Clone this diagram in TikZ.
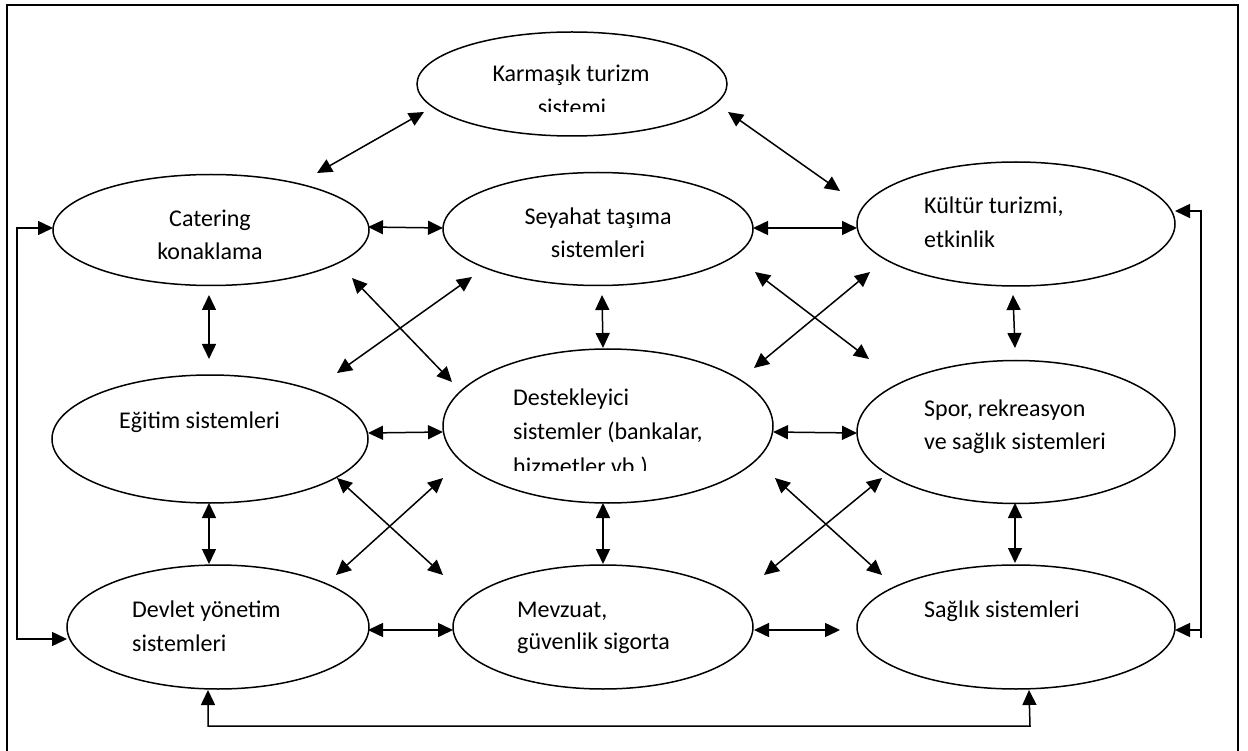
\documentclass[tikz,border=0pt]{standalone}
\usepackage{fontspec}
\setmainfont{Carlito}
\usetikzlibrary{arrows.meta,shapes.geometric}
\tikzset{
  sys/.style={draw,ellipse,line width=1.5pt,inner sep=0pt},
  lbl/.style={inner sep=0pt,font=\fontsize{24}{30}\selectfont},
  lblc/.style={lbl,anchor=base},
  lbll/.style={lbl,anchor=base west},
  biarrow/.style={line width=1.5pt,{Triangle[length=15pt,width=14pt]}-{Triangle[length=15pt,width=14pt]}},
  onearrow/.style={line width=1.5pt,-{Triangle[length=15pt,width=14pt]}},
  frameline/.style={line width=1.5pt}
}
\begin{document}
\begin{tikzpicture}[x=1pt,y=-1pt]
\useasboundingbox (0,0) rectangle (1248,751);
% frame
\coordinate (f1) at (7,751);
\coordinate (f2) at (7,5);
\coordinate (f3) at (1238,5);
\coordinate (f4) at (1238,751);
\draw[frameline] (f1) -- (f2) -- (f3) -- (f4);

% ellipses
\node[sys,minimum width=310pt,minimum height=104pt] (kar) at (572,84) {};
\node[sys,minimum width=316pt,minimum height=111pt] (cat) at (211,230) {};
\node[sys,minimum width=310pt,minimum height=113pt] (sey) at (598,229) {};
\node[sys,minimum width=318pt,minimum height=124pt] (kul) at (1016,224) {};
\node[sys,minimum width=316pt,minimum height=128pt] (egi) at (210,439) {};
\node[sys,minimum width=330pt,minimum height=154pt] (des) at (608,426) {};
\node[sys,minimum width=318pt,minimum height=143pt] (spo) at (1016,432) {};
\node[sys,minimum width=302pt,minimum height=124pt] (dev) at (218,627) {};
\node[sys,minimum width=300pt,minimum height=124pt] (mev) at (603,627) {};
\node[sys,minimum width=318pt,minimum height=124pt] (sag) at (1016,627) {};

% texts
\node[lblc] (kar1) at (571,82) {Karmaşık turizm};
\begin{scope}
  \clip (420,40) rectangle (725,112);
  \node[lblc] (kar2) at (572,116) {sistemi};
\end{scope}
\node[lblc] (cat1) at (210,227) {Catering};
\node[lblc] (cat2) at (210,260) {konaklama};
\node[lblc] (sey1) at (598,225) {Seyahat taşıma};
\node[lblc] (sey2) at (598,258) {sistemleri};
\node[lbll] (kul1) at (924,214) {Kültür turizmi,};
\node[lbll] (kul2) at (924,248) {etkinlik};
\node[lbll] (egi1) at (119,428) {Eğitim sistemleri};
\node[lbll] (des1) at (513,406) {Destekleyici};
\node[lbll] (des2) at (513,439) {sistemler (bankalar,};
\begin{scope}
  \clip (480,445) rectangle (760,470);
  \node[lbll] (des3) at (513,474) {hizmetler vb.)};
\end{scope}
\node[lbll] (spo1) at (924,416) {Spor, rekreasyon};
\node[lbll] (spo2) at (924,449) {ve sağlık sistemleri};
\node[lbll] (dev1) at (132,617) {Devlet yönetim};
\node[lbll] (dev2) at (132,651) {sistemleri};
\node[lbll] (mev1) at (517,617) {Mevzuat,};
\node[lbll] (mev2) at (517,649) {güvenlik sigorta};
\node[lbll] (sag1) at (924,617) {Sağlık sistemleri};

% arrow end points
\coordinate (a1s) at (424,112); \coordinate (a1e) at (317,173);
\coordinate (a2s) at (728,112); \coordinate (a2e) at (840,191);
\coordinate (a3s) at (368,227); \coordinate (a3e) at (443,228);
\coordinate (a4s) at (753,228); \coordinate (a4e) at (857,228);
\coordinate (a5s) at (209,295); \coordinate (a5e) at (209,359);
\coordinate (a6s) at (602,295); \coordinate (a6e) at (603,348);
\coordinate (a7s) at (1013,295); \coordinate (a7e) at (1015,348);
\coordinate (a8s) at (352,278); \coordinate (a8e) at (452,382);
\coordinate (a9s) at (472,277); \coordinate (a9e) at (337,373);
\coordinate (a10s) at (755,272); \coordinate (a10e) at (869,359);
\coordinate (a11s) at (870,272); \coordinate (a11e) at (754,368);
\coordinate (a12s) at (368,433); \coordinate (a12e) at (443,432);
\coordinate (a13s) at (773,432); \coordinate (a13e) at (857,433);
\coordinate (a14s) at (209,503); \coordinate (a14e) at (209,564);
\coordinate (a15s) at (603,503); \coordinate (a15e) at (603,564);
\coordinate (a16s) at (1015,503); \coordinate (a16e) at (1015,563);
\coordinate (a17s) at (337,478); \coordinate (a17e) at (443,575);
\coordinate (a18s) at (443,478); \coordinate (a18e) at (336,575);
\coordinate (a19s) at (775,478); \coordinate (a19e) at (882,575);
\coordinate (a20s) at (882,478); \coordinate (a20e) at (764,575);
\coordinate (a21s) at (368,630); \coordinate (a21e) at (453,630);
\coordinate (a22s) at (754,630); \coordinate (a22e) at (840,630);

\foreach \i in {1,...,22} {
  \draw[biarrow] (a\i s) -- (a\i e);
}

% left loop
\coordinate (lcat) at (53,228);
\coordinate (lc1) at (17,228);
\coordinate (lc2) at (17,639);
\coordinate (ldev) at (67,639);
\draw[biarrow] (lcat) -- (lc1) -- (lc2) -- (ldev);

% right loop
\coordinate (rkul) at (1175,211);
\coordinate (rc1) at (1201,211);
\coordinate (rc2) at (1201,638);
\coordinate (rc3) at (1201,630);
\coordinate (rsag) at (1175,630);
\draw[onearrow] (rc2) -- (rc1) -- (rkul);
\draw[onearrow] (rc3) -- (rsag);

% bottom loop
\coordinate (bdev) at (208,690);
\coordinate (bc1) at (208,726);
\coordinate (bc2) at (1030,726);
\coordinate (bsag) at (1029,690);
\draw[biarrow] (bdev) -- (bc1) -- (bc2) -- (bsag);
\end{tikzpicture}
\end{document}
